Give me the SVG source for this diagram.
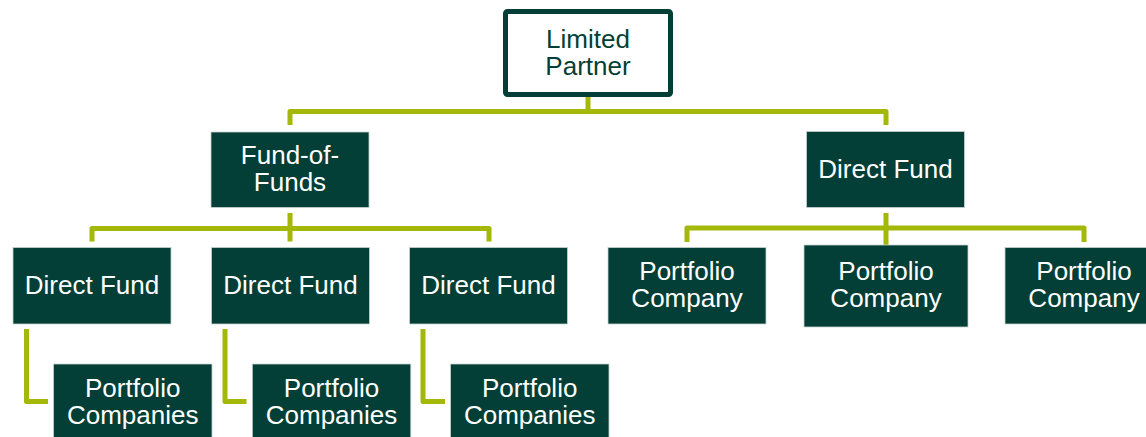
<svg xmlns="http://www.w3.org/2000/svg" width="1146" height="437" viewBox="0 0 1146 437">
<style>
.box{fill:#033f36;stroke:#c9d3d0;stroke-width:0.8}
.lp{fill:#ffffff;stroke:#033f36;stroke-width:5}
.t{font-family:"Liberation Sans",Arial,sans-serif;font-size:26px;fill:#ffffff;text-anchor:middle}
.td{font-family:"Liberation Sans",Arial,sans-serif;font-size:26px;fill:#033f36;text-anchor:middle}
.c{fill:none;stroke:#a3b808;stroke-width:5;stroke-linejoin:round;stroke-linecap:butt}
</style>
<rect width="1146" height="437" fill="#ffffff"/>
<g id="connectors">
<path class="c" d="M588 97 V111.5"/>
<path class="c" d="M290 125 V111.5 H886 V125"/>
<path class="c" d="M92 241.5 V228.5 H489 V241.5"/>
<path class="c" d="M290 213 V241.5"/>
<path class="c" d="M687 242 V228 H1084 V242"/>
<path class="c" d="M886 213 V245"/>
<path class="c" d="M26.5 329 V401.5 H48"/>
<path class="c" d="M225 329 V401.5 H246.5"/>
<path class="c" d="M423 329 V401.5 H445"/>
</g>
<g id="limited-partner">
<rect class="lp" x="505.5" y="11.5" width="165" height="83" rx="2"/>
<text class="td" x="588" y="48"><tspan x="588">Limited</tspan><tspan x="588" dy="27">Partner</tspan></text>
</g>
<g id="fund-of-funds">
<rect class="box" x="211" y="132" width="158" height="75.5"/>
<text class="t" x="290" y="164"><tspan x="290">Fund-of-</tspan><tspan x="290" dy="26.5">Funds</tspan></text>
</g>
<g id="direct-fund-top">
<rect class="box" x="806.5" y="131.5" width="158" height="76"/>
<text class="t" x="885.5" y="177.5">Direct Fund</text>
</g>
<g id="direct-fund-1">
<rect class="box" x="13" y="247.5" width="158" height="76.5"/>
<text class="t" x="92" y="293.5">Direct Fund</text>
</g>
<g id="direct-fund-2">
<rect class="box" x="211.5" y="247.5" width="158" height="76.5"/>
<text class="t" x="290.5" y="293.5">Direct Fund</text>
</g>
<g id="direct-fund-3">
<rect class="box" x="409.5" y="247.5" width="158" height="76.5"/>
<text class="t" x="488.5" y="293.5">Direct Fund</text>
</g>
<g id="portfolio-companies-1">
<rect class="box" x="53.5" y="364" width="158.5" height="80"/>
<text class="t" x="132.7" y="396.5"><tspan x="132.7">Portfolio</tspan><tspan x="132.7" dy="27">Companies</tspan></text>
</g>
<g id="portfolio-companies-2">
<rect class="box" x="252.3" y="364" width="158.5" height="80"/>
<text class="t" x="331.5" y="396.5"><tspan x="331.5">Portfolio</tspan><tspan x="331.5" dy="27">Companies</tspan></text>
</g>
<g id="portfolio-companies-3">
<rect class="box" x="450.5" y="364" width="158.5" height="80"/>
<text class="t" x="529.7" y="396.5"><tspan x="529.7">Portfolio</tspan><tspan x="529.7" dy="27">Companies</tspan></text>
</g>
<g id="portfolio-company-1">
<rect class="box" x="608" y="247.5" width="158" height="76.5"/>
<text class="t" x="687" y="280"><tspan x="687">Portfolio</tspan><tspan x="687" dy="27">Company</tspan></text>
</g>
<g id="portfolio-company-2">
<rect class="box" x="804" y="245" width="164" height="82"/>
<text class="t" x="886" y="280"><tspan x="886">Portfolio</tspan><tspan x="886" dy="27">Company</tspan></text>
</g>
<g id="portfolio-company-3">
<rect class="box" x="1005" y="247.5" width="158" height="76.5"/>
<text class="t" x="1084" y="280"><tspan x="1084">Portfolio</tspan><tspan x="1084" dy="27">Company</tspan></text>
</g>
</svg>
